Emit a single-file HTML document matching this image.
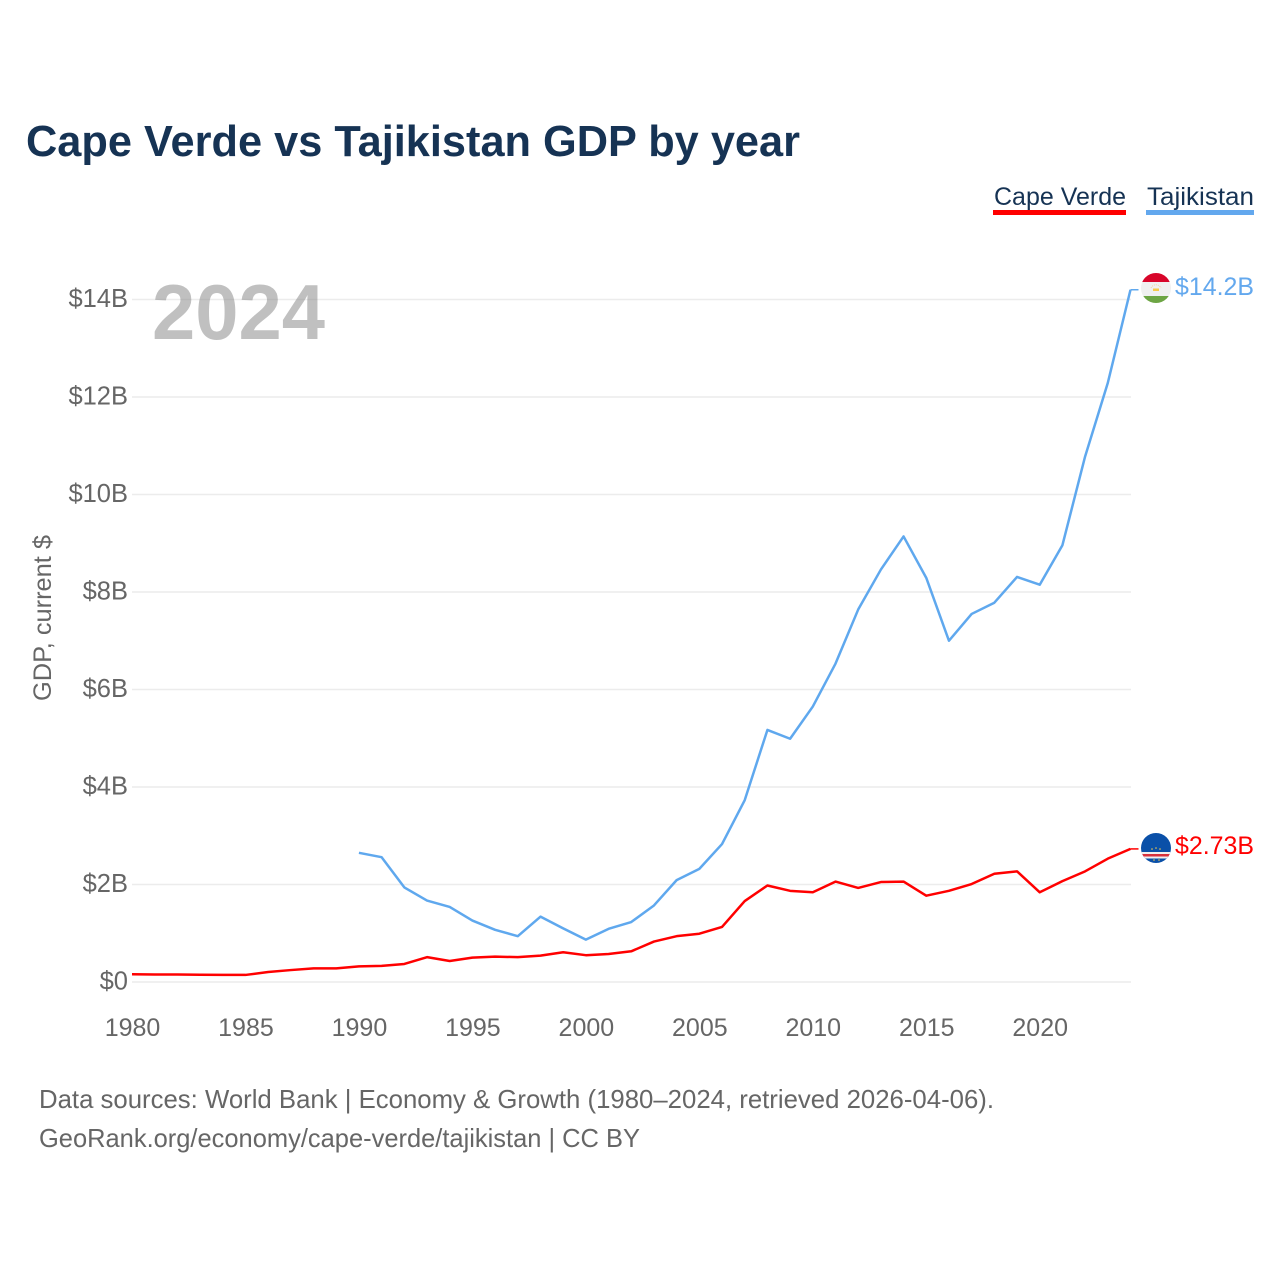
<!DOCTYPE html>
<html lang="en">
<head>
<meta charset="utf-8">
<title>Cape Verde vs Tajikistan GDP by year</title>
<style>
html,body{margin:0;padding:0;background:#fff;width:1280px;height:1280px;overflow:hidden}
svg{display:block}
text{font-family:"Liberation Sans",sans-serif}
</style>
</head>
<body>
<svg id="chart" width="1280" height="1280" viewBox="0 0 1280 1280" xmlns="http://www.w3.org/2000/svg">
  <defs>
    <clipPath id="flag-clip-tj"><circle cx="0" cy="0" r="15"/></clipPath>
    <clipPath id="flag-clip-cv"><circle cx="0" cy="0" r="15"/></clipPath>
  </defs>
  <rect x="0" y="0" width="1280" height="1280" fill="#fff"/>
  <text x="26" y="156" font-size="44" font-weight="700" fill="#163354" textLength="774" lengthAdjust="spacingAndGlyphs">Cape Verde vs Tajikistan GDP by year</text>

  <g>
    <g>
      <text x="994" y="205" font-size="25" fill="#163354" textLength="132" lengthAdjust="spacingAndGlyphs">Cape Verde</text>
      <rect x="993" y="210" width="133" height="5" fill="#ff0000"/>
    </g>
    <g>
      <text x="1147" y="205" font-size="25" fill="#163354" textLength="107" lengthAdjust="spacingAndGlyphs">Tajikistan</text>
      <rect x="1146" y="210" width="108" height="5" fill="#63a8ee"/>
    </g>
  </g>

  <g id="grid"></g>
  <g id="y-ticks"></g>
  <g id="x-ticks"></g>

  <text x="152" y="339" font-size="78" font-weight="700" fill="#8c8c8c" fill-opacity="0.55" textLength="173" lengthAdjust="spacingAndGlyphs">2024</text>

  <text transform="translate(51,618) rotate(-90)" text-anchor="middle" font-size="25" fill="#666666" textLength="166" lengthAdjust="spacingAndGlyphs">GDP, current $</text>

  <g id="series"></g>

  <g transform="translate(1156,288)">
    <g clip-path="url(#flag-clip-tj)">
      <rect x="-15" y="-15" width="30" height="9" fill="#d8062a"/>
      <rect x="-15" y="-6" width="30" height="14" fill="#f0f0f0"/>
      <rect x="-15" y="8" width="30" height="7" fill="#6da544"/>
      <rect x="-3" y="0.500" width="6" height="2.500" fill="#f6c94a"/>
      <path d="M-5,0 A5.500,5.500 0 0 1 5,0" fill="none" stroke="#f7cf9a" stroke-width="1" stroke-dasharray="1 1"/>
    </g>
  </g>
  <g transform="translate(1156,848)">
    <g clip-path="url(#flag-clip-cv)">
      <rect x="-15" y="-15" width="30" height="30" fill="#0a50a8"/>
      <rect x="-15" y="4" width="30" height="6.500" fill="#f0f0f0"/>
      <rect x="-15" y="6" width="30" height="2.500" fill="#d8313c"/>
      <circle cx="0" cy="0" r="0.800" fill="#f6c94a"/>
      <circle cx="-4" cy="1" r="0.800" fill="#f6c94a"/>
      <circle cx="4" cy="1" r="0.800" fill="#f6c94a"/>
      <circle cx="-2" cy="12" r="0.800" fill="#f6c94a"/>
      <circle cx="3" cy="12" r="0.800" fill="#f6c94a"/>
    </g>
  </g>
  <text x="1175" y="295" font-size="25" fill="#63a8ee" textLength="79" lengthAdjust="spacingAndGlyphs">$14.2B</text>
  <text x="1175" y="854" font-size="25" fill="#ff0000" textLength="79" lengthAdjust="spacingAndGlyphs">$2.73B</text>

  <text x="39" y="1108" font-size="26" fill="#666666" textLength="955" lengthAdjust="spacingAndGlyphs">Data sources: World Bank | Economy &amp; Growth (1980–2024, retrieved 2026-04-06).</text>
  <text x="39" y="1147" font-size="26" fill="#666666" textLength="601" lengthAdjust="spacingAndGlyphs">GeoRank.org/economy/cape-verde/tajikistan | CC BY</text>
</svg>
<script>
var years = [1980,1981,1982,1983,1984,1985,1986,1987,1988,1989,1990,1991,1992,1993,1994,1995,1996,1997,1998,1999,2000,2001,2002,2003,2004,2005,2006,2007,2008,2009,2010,2011,2012,2013,2014,2015,2016,2017,2018,2019,2020,2021,2022,2023,2024];
var capeVerde = [0.16,0.155,0.155,0.15,0.145,0.145,0.205,0.245,0.28,0.28,0.32,0.33,0.37,0.51,0.43,0.5,0.52,0.51,0.54,0.61,0.55,0.575,0.63,0.83,0.94,0.99,1.13,1.66,1.98,1.87,1.84,2.06,1.93,2.05,2.06,1.77,1.87,2.01,2.22,2.27,1.84,2.07,2.27,2.53,2.73];
var tajikistan = [null,null,null,null,null,null,null,null,null,null,2.65,2.56,1.94,1.67,1.54,1.26,1.07,0.94,1.34,1.10,0.87,1.09,1.23,1.57,2.09,2.32,2.83,3.73,5.17,4.99,5.65,6.53,7.64,8.46,9.14,8.29,7.0,7.55,7.78,8.31,8.15,8.96,10.78,12.29,14.2];
var yTickValues = [0,2,4,6,8,10,12,14];
var yTickLabels = ["$0","$2B","$4B","$6B","$8B","$10B","$12B","$14B"];
var xTickValues = [1980,1985,1990,1995,2000,2005,2010,2015,2020];

var SVG_NS = "http://www.w3.org/2000/svg";
function xScale(year){ return 132 + (year - 1980) * (1130.5 - 132) / 44; }
function yScale(value){ return 982 - value * 48.75; }
function make(tag, parent, attrs){
  var el = document.createElementNS(SVG_NS, tag);
  for (var k in attrs) el.setAttribute(k, attrs[k]);
  parent.appendChild(el);
  return el;
}

var gridGroup = document.getElementById("grid");
var yGroup = document.getElementById("y-ticks");
yTickValues.forEach(function(v, i){
  var line = make("line", gridGroup, {x1:132, x2:1131, y1:yScale(v), y2:yScale(v), stroke:"#ececec", "stroke-width":1.5});
  
  
  var t = make("text", yGroup, {x:128, y:yScale(v) + 7.5, "text-anchor":"end", "font-size":25.5, fill:"#666666"});
  
  
  t.textContent = yTickLabels[i];
});

var xGroup = document.getElementById("x-ticks");
xTickValues.forEach(function(year){
  var t = make("text", xGroup, {x:xScale(year) + 0.5, y:1036, "text-anchor":"middle", "font-size":25, fill:"#666666"});
  
  
  t.textContent = String(year);
});

function drawSeries(values, color, name){
  var group = document.getElementById("series");
  var pts = [];
  values.forEach(function(v, i){
    if (v !== null) pts.push(xScale(years[i]).toFixed(2) + "," + yScale(v).toFixed(2));
  });
  var line = make("polyline", group, {points:pts.join(" "), fill:"none", stroke:color, "stroke-width":2.5, "stroke-linejoin":"round"});
  
  
  var last = values[values.length - 1];
  var lastX = xScale(years[years.length - 1]);
  var connector = make("line", group, {x1:lastX, x2:lastX + 8, y1:yScale(last), y2:yScale(last), stroke:color, "stroke-width":1.5});
  
  
}
drawSeries(tajikistan, "#5fa8ee", "line-tajikistan");
drawSeries(capeVerde, "#ff0000", "line-cape-verde");
</script>
</body>
</html>
